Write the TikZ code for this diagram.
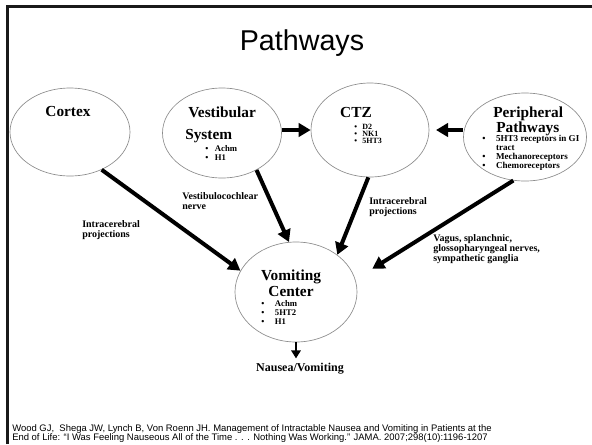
\documentclass[tikz,border=0pt]{standalone}
\usepackage{fontspec}
\setmainfont{Liberation Serif}
\setsansfont{Liberation Sans}
\usetikzlibrary{shapes.geometric,arrows.meta}
\newcommand{\bitem}[2]{\textbullet\hspace{#1}#2}
\tikzset{
  oval/.style={ellipse, draw={rgb,255:red,140;green,140;blue,140}, line width=0.5pt, inner sep=0pt},
  ttl/.style={font=\bfseries\fontsize{11.5}{13}\selectfont, inner sep=0pt},
  lbl/.style={font=\bfseries\fontsize{7.5}{7.5}\selectfont, align=left, anchor=base west, inner sep=0pt},
  bigarrow/.style={line width=3pt, -{Triangle[length=9pt,width=10pt]}},
  smallarrow/.style={line width=2pt, -{Triangle[length=6pt,width=7pt]}}
}
\begin{document}
\begin{tikzpicture}[x=0.75pt,y=0.75pt,yscale=-1,xscale=1]
\useasboundingbox (0,0) rectangle (592,444);

%Straight Lines
\draw [line width=2.2pt, color={rgb,255:red,25;green,25;blue,25}] (7.5,444) -- (7.5,6.5) -- (592,6.5);

% Text Node
\node [font=\sffamily\fontsize{21.5}{26}\selectfont, anchor=base, inner sep=0pt] (title) at (302,50) {Pathways};

%Shape: Ellipse
\node [oval, minimum width=90pt, minimum height=66pt] (cortex) at (70,132) {};
%Shape: Ellipse
\node [oval, minimum width=89.25pt, minimum height=67.5pt] (vest) at (222,133) {};
%Shape: Ellipse
\node [oval, minimum width=88.5pt, minimum height=70.5pt] (ctz) at (370,130) {};
%Shape: Ellipse
\node [oval, minimum width=92.25pt, minimum height=66pt] (periph) at (525,137) {};
%Shape: Ellipse
\node [oval, minimum width=91.5pt, minimum height=75pt] (vomit) at (296,292) {};

% Text Node
\node [ttl, anchor=base] (cortexttl) at (68,116) {Cortex};
% Text Node
\node [ttl, anchor=base west] (vestttl) at (188,117) {Vestibular};
\node [ttl, anchor=base west] (vestttlb) at (185,139) {System};
\node [font=\bfseries\fontsize{6.5}{6.4}\selectfont, align=left, anchor=base west, inner sep=0pt] (vestlist) at (205,160.5) {\bitem{5pt}{Achm}\\\bitem{5pt}{H1}};
% Text Node
\node [ttl, anchor=base] (ctzttl) at (356,117) {CTZ};
\node [font=\bfseries\fontsize{6}{5.4}\selectfont, align=left, anchor=base west, inner sep=0pt] (ctzlist) at (354,143.4) {\bitem{4pt}{D2}\\\bitem{4pt}{NK1}\\\bitem{4pt}{5HT3}};
% Text Node
\node [ttl, anchor=base west] (periphttl) at (493,117) {Peripheral};
\node [ttl, anchor=base west] (periphttlb) at (496,132) {Pathways};
\node [font=\bfseries\fontsize{6.8}{6.8}\selectfont, align=left, anchor=base west, inner sep=0pt] (periphlist) at (482,168.9) {\bitem{8pt}{5HT3 receptors in GI}\\\phantom{\textbullet}\hspace{8pt}tract\\\bitem{8pt}{Mechanoreceptors}\\\bitem{8pt}{Chemoreceptors}};
% Text Node
\node [ttl, anchor=base] (vomitttl) at (291,280) {Vomiting};
\node [ttl, anchor=base] (vomitttlb) at (291,296) {Center};
\node [font=\bfseries\fontsize{6.5}{6.75}\selectfont, align=left, anchor=base west, inner sep=0pt] (vomitlist) at (261,324) {\bitem{8pt}{Achm}\\\bitem{8pt}{5HT2}\\\bitem{8pt}{H1}};

% Text Node
\node [font=\bfseries\fontsize{9}{10}\selectfont, anchor=base, inner sep=0pt] (nausea) at (300,371) {Nausea/Vomiting};

% Text Node
\node [lbl] (vnerve) at (182,209) {Vestibulocochlear\\nerve};
% Text Node
\node [lbl] (icprojl) at (82,237) {Intracerebral\\projections};
% Text Node
\node [lbl] (icprojr) at (369,214) {Intracerebral\\projections};
% Text Node
\node [lbl] (vagus) at (433,261) {Vagus, splanchnic,\\glossopharyngeal nerves,\\sympathetic ganglia};

%Straight Lines
\draw [bigarrow] (vest.east |- ctz.west) -- (ctz.west);
\draw [bigarrow, shorten >=5pt] (periph.west |- ctz.east) -- (ctz.east);
\draw [bigarrow] (cortex.-50) -- (vomit.159);
\draw [bigarrow] (vest.-47) -- (vomit.98);
\draw [bigarrow] (ctz.-92) -- (vomit.42);
\draw [bigarrow, shorten >=15pt] (periph.-105) -- (vomit.12);
\draw [smallarrow, shorten >=3pt] (vomit.south) -- (vomit.south |- nausea.north);

% Text Node
\node [font=\sffamily\fontsize{7.1}{6.75}\selectfont, align=left, anchor=base west, inner sep=0pt] (source) at (12,440) {Wood GJ,\ \ Shega JW, Lynch B, Von Roenn JH. Management of Intractable Nausea and Vomiting in Patients at the\\End of Life: ``I Was Feeling Nauseous All of the Time . . . Nothing Was Working.'' JAMA. 2007;298(10):1196-1207};

\end{tikzpicture}
\end{document}
